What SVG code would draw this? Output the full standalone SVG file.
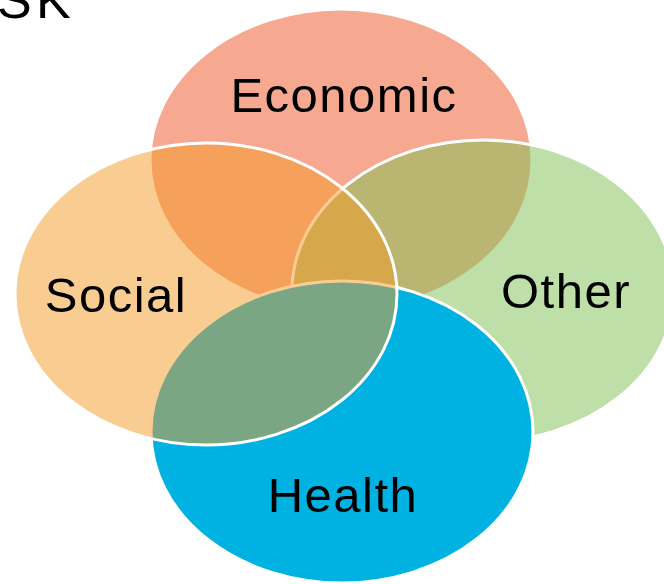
<svg xmlns="http://www.w3.org/2000/svg" width="664" height="584" viewBox="0 0 664 584">
  <style>
    .ell { stroke: #ffffff; stroke-width: 3; }
    .lbl { font-family: "Liberation Sans", Arial, sans-serif; font-size: 49px; fill: #000000; text-anchor: middle; letter-spacing: 1.5px; }
  </style>
  <rect x="0" y="0" width="664" height="584" fill="#ffffff"/>
  <text x="-3" y="17.5" font-family="Liberation Sans, Arial, sans-serif" font-size="52" letter-spacing="4.4" fill="#000000">SK</text>
  <g id="economic">
    <ellipse class="ell" cx="341" cy="160" rx="191" ry="151" fill="#F6A890"/>
    <text class="lbl" x="344" y="111.5">Economic</text>
  </g>
  <g id="other">
    <ellipse class="ell" cx="483" cy="291" rx="191" ry="151" fill="#7DC151" fill-opacity="0.5"/>
    <text class="lbl" x="566" y="307.5">Other</text>
  </g>
  <g id="health">
    <ellipse class="ell" cx="342" cy="432" rx="191" ry="151" fill="#00B2E2"/>
    <text class="lbl" x="343" y="511.5">Health</text>
  </g>
  <g id="social">
    <ellipse class="ell" cx="206" cy="294" rx="191" ry="151" fill="#F39925" fill-opacity="0.5"/>
    <text class="lbl" x="116" y="311.5">Social</text>
  </g>
</svg>
